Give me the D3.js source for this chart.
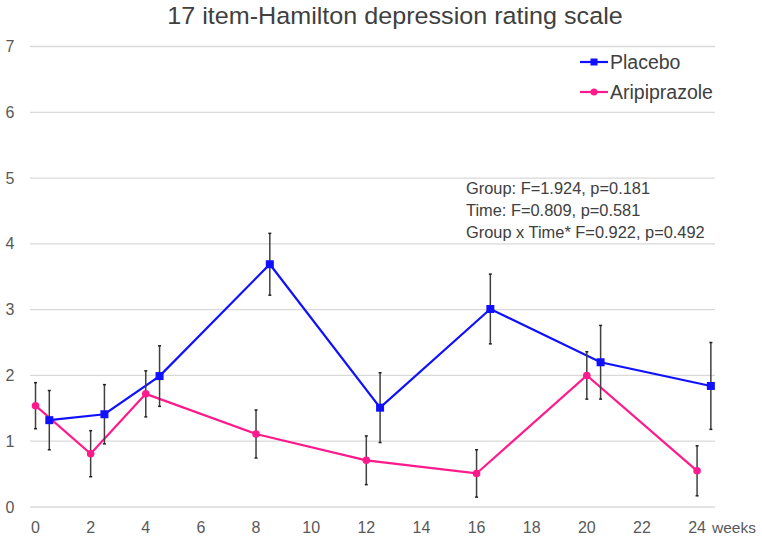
<!DOCTYPE html>
<html><head><meta charset="utf-8">
<script src="https://cdn.jsdelivr.net/npm/d3@7"></script>
<style>body{margin:0;background:#fff}svg{display:block}text{font-family:"Liberation Sans",Arial,sans-serif}</style>
</head><body><svg id="c" width="762" height="539"></svg>
<script>
const weeks = [0, 2, 4, 8, 12, 16, 20, 24];
const placeboMean = [1.32, 1.41, 1.99, 3.69, 1.51, 3.01, 2.20, 1.84];
const placeboErr  = [0.45, 0.45, 0.46, 0.47, 0.53, 0.53, 0.56, 0.66];
const aripMean = [1.54, 0.81, 1.72, 1.11, 0.71, 0.51, 2.00, 0.55];
const aripErr  = [0.35, 0.35, 0.35, 0.365, 0.37, 0.36, 0.36, 0.38];
const xTicks = [0, 2, 4, 6, 8, 10, 12, 14, 16, 18, 20, 22, 24];
const yTicks = [0, 1, 2, 3, 4, 5, 6, 7];
const placeboOffset = 0.5;
const stats = ["Group: F=1.924, p=0.181", "Time: F=0.809, p=0.581", "Group x Time* F=0.922, p=0.492"];

const svg = d3.select("#c");
const x = d3.scaleLinear().domain([-0.2, 24.65]).range([30, 715]);
const y = d3.scaleLinear().domain([0, 7]).range([507, 46.5]);

svg.append("text").attr("transform", "translate(395,23.5) scale(1.07,1)").attr("text-anchor", "middle")
  .attr("font-size", 23.5).attr("fill", "#404040").text("17 item-Hamilton depression rating scale");

// gridlines
svg.append("g").selectAll("line").data(yTicks).join("line")
  .attr("x1", x(-0.2)).attr("x2", x(24.65)).attr("y1", d => y(d)).attr("y2", d => y(d))
  .attr("stroke", "#d9d9d9").attr("stroke-width", 1.3);

// y labels
svg.append("g").selectAll("text").data(yTicks).join("text")
  .attr("x", 10).attr("y", d => y(d)).attr("dy", "0.35em").attr("text-anchor", "middle")
  .attr("font-size", 16).attr("fill", "#595959").text(d => d);

// x labels
svg.append("g").selectAll("text").data(xTicks).join("text")
  .attr("x", d => x(d)).attr("y", 533).attr("text-anchor", "middle")
  .attr("font-size", 16).attr("fill", "#595959").text(d => d);
svg.append("text").attr("x", 712).attr("y", 533).attr("font-size", 15.5).attr("fill", "#595959").text("weeks");

function series(means, errs, off, color) {
  const pts = weeks.map((w, i) => ({ x: x(w + off), m: means[i], e: errs[i] }));
  svg.append("path").datum(pts)
    .attr("d", d3.line().x(d => d.x).y(d => y(d.m)))
    .attr("fill", "none").attr("stroke", color).attr("stroke-width", 2.2);
  return { pts };
}
function errbars(s) {
  const eg = svg.append("g");
  s.pts.forEach(d => {
    eg.append("line").attr("x1", d.x).attr("x2", d.x).attr("y1", y(d.m + d.e)).attr("y2", y(d.m - d.e))
      .attr("stroke", "#404040").attr("stroke-width", 1.5);
    [d.m + d.e, d.m - d.e].forEach(v => eg.append("line").attr("x1", d.x - 1.5).attr("x2", d.x + 1.5)
      .attr("y1", y(v)).attr("y2", y(v)).attr("stroke", "#222").attr("stroke-width", 1.5));
  });
}
function markers(s, color, shape) {
  s.pts.forEach(d => {
    if (shape === "square") {
      svg.append("rect").attr("x", d.x - 4).attr("y", y(d.m) - 4).attr("width", 8).attr("height", 8)
        .attr("fill", color);
    } else {
      svg.append("circle").attr("cx", d.x).attr("cy", y(d.m)).attr("r", 3.8).attr("fill", color);
    }
  });
}
const pColor = "#1010ff", aColor = "#ff1a8c";
const sA = series(aripMean, aripErr, 0, aColor);
const sP = series(placeboMean, placeboErr, placeboOffset, pColor);
errbars(sA); errbars(sP);
markers(sA, aColor, "circle"); markers(sP, pColor, "square");

// legend
const leg = [{ name: "Placebo", c: pColor, s: "square", y: 62 }, { name: "Aripiprazole", c: aColor, s: "circle", y: 92 }];
leg.forEach(l => {
  svg.append("line").attr("x1", 580).attr("x2", 608).attr("y1", l.y).attr("y2", l.y).attr("stroke", l.c).attr("stroke-width", 2.2);
  if (l.s === "square") svg.append("rect").attr("x", 590.5).attr("y", l.y - 3.5).attr("width", 7).attr("height", 7).attr("fill", l.c);
  else svg.append("circle").attr("cx", 594).attr("cy", l.y).attr("r", 3.5).attr("fill", l.c);
  svg.append("text").attr("x", 610).attr("y", l.y).attr("dy", "0.35em").attr("font-size", 19.5).attr("fill", "#404040").text(l.name);
});

// stats annotation
svg.append("g").selectAll("text").data(stats).join("text")
  .attr("x", 466).attr("y", (d, i) => 188.5 + i * 21.7).attr("dy", "0.35em")
  .attr("font-size", 16.4).attr("fill", "#404040").text(d => d);
</script></body></html>
